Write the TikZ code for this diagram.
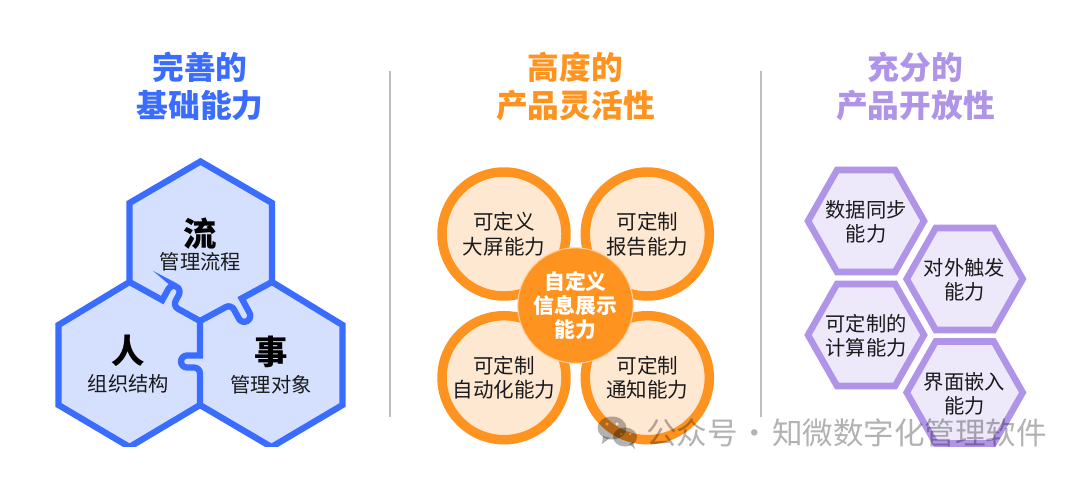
\documentclass[tikz,border=0pt]{standalone}
\usepackage{fontspec}
\setmainfont{Noto Sans CJK SC}
\usepackage{xcolor}
\usepackage{tikz}
\definecolor{zwblue}{HTML}{3A6CFF}
\definecolor{zwsky}{HTML}{D5E0FF}
\definecolor{zworange}{HTML}{FF9320}
\definecolor{zwpeach}{HTML}{FFE8D2}
\definecolor{zwpurple}{HTML}{AF94E8}
\definecolor{zwlilac}{HTML}{EDE8FA}
\definecolor{zwink}{HTML}{1A1A1A}
\definecolor{zwrule}{HTML}{BDBDBD}
\tikzset{
  headline/.style={align=center,font=\fontsize{23.8pt}{28pt}\selectfont\bfseries,inner sep=0pt},
  label/.style={align=center,text=zwink,font=\fontsize{15.2pt}{18.2pt}\selectfont,inner sep=0pt},
  bigchar/.style={text=black,font=\fontsize{25pt}{25pt}\selectfont\bfseries,inner sep=0pt},
  petal/.style={circle,draw=zworange,fill=zwpeach,line width=7.1pt,minimum size=93pt,inner sep=0pt,
    align=center,text=zwink,font=\fontsize{15.4pt}{18.6pt}\selectfont},
  cell/.style={draw=zwpurple,fill=zwlilac,line width=4.9pt,miter limit=10},
  honey/.style={draw=zwblue,line width=4.7pt,miter limit=10},
  divider/.style={draw=zwrule,line width=1.1pt},
}
\begin{document}
\begin{tikzpicture}[x=0.75pt,y=-0.75pt]
\useasboundingbox (0,0) rectangle (1080,477);

\node[headline,text=zwblue] (basetitle) at (200,86.5) {完善的\\基础能力};
\node[headline,text=zworange] (flextitle) at (575.5,86.5) {高度的\\产品灵活性};
\node[headline,text=zwpurple] (opentitle) at (915.5,86.5) {充分的\\产品开放性};

\coordinate (ruleAtop) at (390,71);
\coordinate (ruleAend) at (390,417);
\coordinate (ruleBtop) at (761,71);
\coordinate (ruleBend) at (761,417);
\draw[divider] (ruleAtop) -- (ruleAend);
\draw[divider] (ruleBtop) -- (ruleBend);

% honeycomb
\begin{scope}
\clip (0,0) rectangle (1080,446);
\fill[zwsky] (200.5,161.5) -- (272,203) -- (272,282) -- (342.5,325) -- (342.5,405) -- (271.5,447)
  -- (200,405) -- (129.5,447) -- (58.5,405) -- (58.5,325) -- (129.5,282) -- (129.5,203) -- cycle;
\draw[honey] (200.5,161.5) -- (272,203) -- (272,282) -- (342.5,325) -- (342.5,405) -- (271.5,447)
  -- (200,405) -- (129.5,447) -- (58.5,405) -- (58.5,325) -- (129.5,282) -- (129.5,203) -- cycle;
\draw[honey] (129.5,282) -- (162.25,300.1) [rounded corners=4.5pt] -- (171.25,283.8) -- (181.75,289.6)
  -- (172.75,305.9) [sharp corners] -- (200,321);
\draw[honey] (272,282) -- (241.7,298.4) [rounded corners=4.5pt] -- (252.4,318.2) -- (241.8,324)
  -- (231.1,304.2) [sharp corners] -- (200,321);
\draw[honey] (200,321) -- (200,355.5) [rounded corners=4.5pt] -- (181,355.5) -- (181,367.5)
  -- (200,367.5) [sharp corners] -- (200,405);
\end{scope}

\node[bigchar] (flowchar) at (200.5,234) {流};
\node[label] (flowtext) at (200.5,262) {管理流程};
\node[bigchar] (staffchar) at (128.5,351) {人};
\node[label] (stafftext) at (128.5,384) {组织结构};
\node[bigchar] (taskchar) at (271,352) {事};
\node[label] (tasktext) at (271,385) {管理对象};

% petals
\node[petal] (screen) at (504,234) {可定义\\大屏能力};
\node[petal] (report) at (647.3,234) {可定制\\报告能力};
\node[petal] (auto) at (504,377.7) {可定制\\自动化能力};
\node[petal] (notice) at (647.3,377.7) {可定制\\通知能力};
\node[circle,draw=zwpeach!70!zworange,fill=zworange,line width=0.8pt,minimum size=86.5pt,inner sep=0pt,
  align=center,text=white,font=\fontsize{15.6pt}{18.2pt}\selectfont\bfseries] (display) at (575.5,305.5)
  {自定义\\信息展示\\能力};

% hexagon cells
\foreach \cx/\cy in {866/221,964.7/279,866/335,964.7/392.5}
  \filldraw[cell] (\cx-58,\cy) -- (\cx-29,\cy-51) -- (\cx+29,\cy-51) -- (\cx+58,\cy)
    -- (\cx+29,\cy+51) -- (\cx-29,\cy+51) -- cycle;

\node[label] (syncing) at (866,221.5) {数据同步\\能力};
\node[label] (trigger) at (964.5,279.5) {对外触发\\能力};
\node[label] (compute) at (866,336) {可定制的\\计算能力};
\node[label] (embed) at (964.5,393.5) {界面嵌入\\能力};

% watermark
\fill[black,opacity=.3,even odd rule] (612,428) ellipse [x radius=14.5,y radius=11.5]
  (607,424) circle [radius=1.8] (617,424) circle [radius=1.8];
\fill[black,opacity=.3] (603,436) -- (602,444) -- (610,438) -- cycle;
\fill[black,opacity=.3,even odd rule] (625,437) ellipse [x radius=12,y radius=9.5]
  (621,434) circle [radius=1.5] (630,434) circle [radius=1.5];
\fill[black,opacity=.3] (629,444) -- (635,449) -- (633,442) -- cycle;
\node[text=black,text opacity=.3,inner sep=0pt,font=\fontsize{22.9pt}{22.9pt}\selectfont] (mark) at (846.5,433)
  {公众号\hspace{1.5pt}·\hspace{1.5pt}知微数字化管理软件};
\end{tikzpicture}
\end{document}
